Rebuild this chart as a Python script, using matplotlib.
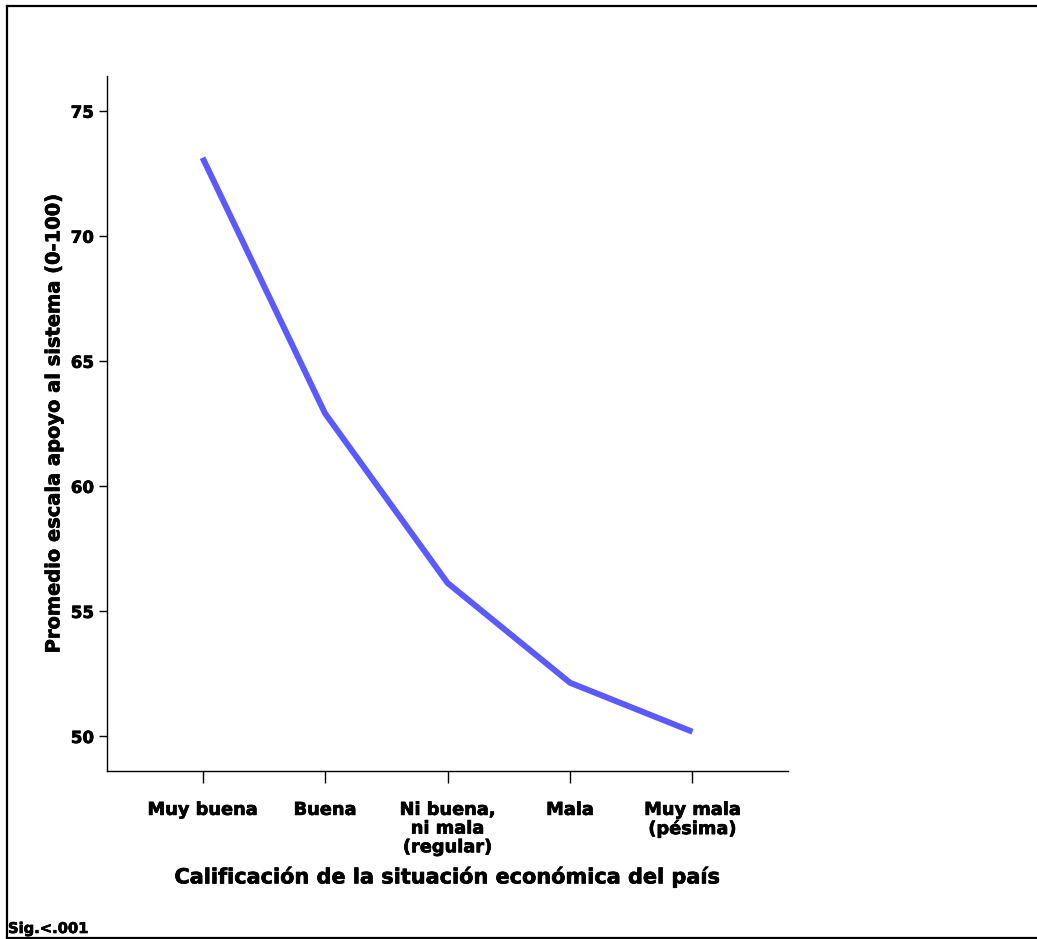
import matplotlib
matplotlib.use("Agg")
import matplotlib.pyplot as plt
import matplotlib.patheffects as pe
from matplotlib.lines import Line2D

# Datos
categorias = ["Muy buena", "Buena", "Ni buena,\nni mala\n(regular)", "Mala", "Muy mala\n(pésima)"]
promedios = [73.12, 62.9, 56.12, 52.13, 50.17]
yticks = [50, 55, 60, 65, 70, 75]

plt.rcParams['font.family'] = ['DejaVu Sans']
plt.rcParams['font.weight'] = 'bold'

grueso = [pe.withStroke(linewidth=0.5, foreground='black')]

fig = plt.figure(figsize=(10.37, 9.39), dpi=100)
ax = fig.add_axes([0.1032, 0.1789, 0.6567, 0.7402])

x = list(range(len(categorias)))
ax.plot(x, promedios, color='#5a5aff', linewidth=4.3, solid_capstyle='butt', solid_joinstyle='miter')

ax.set_xlim(-0.78, 4.78)
ax.set_ylim(48.6, 76.39)
ax.set_xticks(x)
ax.set_xticklabels(categorias, fontsize=12.8, fontweight='bold', linespacing=1.05)
ax.set_yticks(yticks)
ax.set_yticklabels([str(v) for v in yticks], fontsize=12, fontweight='bold')
for t in ax.get_xticklabels() + ax.get_yticklabels():
    t.set_path_effects(grueso)

ax.tick_params(axis='x', length=8.5, width=1.0, pad=13)
ax.tick_params(axis='y', length=6, width=1.0, pad=3.5)

for s in ['top', 'right']:
    ax.spines[s].set_visible(False)
for s in ['left', 'bottom']:
    ax.spines[s].set_linewidth(1.0)

ax.set_xlabel('Calificación de la situación económica del país', fontsize=15, fontweight='bold',
              va='center', path_effects=grueso)
ax.xaxis.set_label_coords(0.5, -0.152)
ax.set_ylabel('Promedio escala apoyo al sistema (0-100)', fontsize=14, fontweight='bold',
              va='center', path_effects=grueso)
ax.yaxis.set_label_coords(-0.078, 0.5)

# Marco exterior (izquierda, arriba, abajo)
W, H = 1037.0, 939.0
kw = dict(color='black', linewidth=1.6, transform=fig.transFigure)
fig.add_artist(Line2D([7 / W, 7 / W], [1 - 938 / H, 1 - 5.5 / H], **kw))
fig.add_artist(Line2D([7 / W, 1.0], [1 - 5.5 / H, 1 - 5.5 / H], **kw))
fig.add_artist(Line2D([7 / W, 1.0], [1 - 938 / H, 1 - 938 / H], **kw))

fig.text(8 / W, 1 - 936 / H, 'Sig.<.001', fontsize=10.6, fontweight='bold', ha='left', va='bottom',
         path_effects=grueso)

fig.savefig('out.png', dpi=100)
